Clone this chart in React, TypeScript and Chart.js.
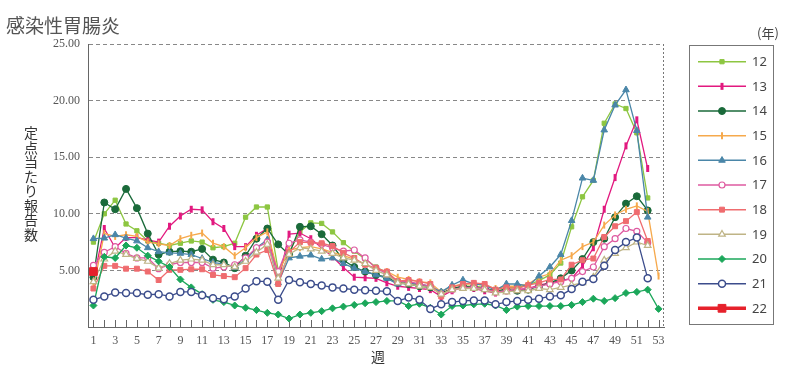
import React, { useEffect, useRef } from 'react';
import { Chart, registerables } from 'chart.js';
import { drawPoint } from 'chart.js/helpers';

Chart.register(...registerables);

const weekLabels = ['1','2','3','4','5','6','7','8','9','10','11','12','13','14','15','16','17','18','19','20','21','22','23','24','25','26','27','28','29','30','31','32','33','34','35','36','37','38','39','40','41','42','43','44','45','46','47','48','49','50','51','52','53'];

const yearLabels = ['12','13','14','15','16','17','18','19','20','21','22'];

const s12 = [7.5,10.0,11.2,9.1,8.5,7.6,7.4,7.2,7.4,7.6, 7.5,7.0,7.1,7.4,9.7,10.6,10.6,5.0,6.6,8.4, 9.2,9.15,8.4,7.45,6.7,6.0,5.3,4.8,4.0,3.9, 3.7,3.6,2.9,3.4,3.6,3.6,3.5,3.1,3.4,3.5, 3.7,4.1,4.6,5.65,8.85,11.5,12.95,18.0,19.7,19.3, 17.15,11.4];
const s13 = [4.2,8.7,7.0,7.9,7.9,7.7,7.5,8.9,9.8,10.4, 10.35,9.3,8.7,7.1,7.1,8.1,8.7,3.9,8.2,8.3, 7.8,7.0,6.2,5.25,4.4,4.35,4.3,3.9,3.6,3.5, 3.4,3.3,2.7,3.2,3.5,3.4,3.2,3.0,3.2,3.3, 3.4,3.7,3.9,4.1,4.3,5.4,7.0,10.4,13.2,16.0, 18.3,14.0];
const s14 = [4.4,11.0,10.4,12.2,10.5,8.25,6.4,6.65,6.7,6.65, 6.9,5.95,5.7,5.2,6.3,7.8,8.7,7.3,6.4,8.85, 8.9,8.2,7.2,5.9,5.3,4.9,4.6,4.4,3.9,3.8, 3.6,3.5,3.0,3.4,3.6,3.5,3.4,3.2,3.3,3.2, 3.3,3.6,3.9,4.3,5.0,6.0,7.5,7.8,9.7,10.9, 11.55,10.3];
const s15 = [3.5,8.25,8.0,8.15,8.0,7.5,7.35,7.2,7.8,8.1, 8.3,7.4,7.1,6.3,7.0,7.9,8.4,4.8,6.8,7.0, 7.1,6.9,6.6,6.3,6.0,5.5,5.1,4.9,4.4,4.2, 4.0,3.9,3.1,3.6,3.8,3.8,3.7,3.4,3.6,3.6, 3.8,4.4,4.7,5.9,6.3,7.1,7.5,9.0,9.9,10.4, 10.7,10.2,4.5];
const s16 = [7.8,7.85,8.15,7.85,7.6,7.0,6.65,6.55,6.5,6.4, 6.05,5.7,5.55,5.25,5.9,7.0,7.7,3.9,6.1,6.25, 6.35,6.0,6.1,5.6,5.2,4.9,4.6,4.3,3.8,3.9, 3.8,3.6,3.1,3.7,4.15,3.8,3.7,3.25,3.8,3.8, 3.6,4.5,5.3,6.4,9.4,13.15,12.95,17.4,19.6,20.95, 17.35,9.7];
const s17 = [5.45,6.6,7.1,6.5,6.1,6.1,5.15,5.5,5.7,5.7, 5.7,5.2,5.3,5.5,6.1,7.0,7.5,4.9,7.4,7.7, 7.5,7.3,7.0,6.7,6.8,6.1,5.2,4.7,4.0,4.0, 3.8,3.6,2.9,3.3,3.5,3.5,3.4,3.1,3.2,3.3, 3.4,3.6,3.8,4.0,4.3,4.9,5.3,7.1,7.8,8.7, 8.45,7.45];
const s18 = [3.4,5.4,5.4,5.15,5.15,4.9,4.15,5.05,5.05,5.1, 5.1,4.6,4.5,4.4,5.2,6.4,6.8,3.8,6.6,7.5, 7.45,7.4,7.15,6.55,6.1,5.5,5.2,4.9,4.05,4.15, 4.0,3.8,2.7,3.5,3.8,3.9,3.8,3.3,3.5,3.4, 3.7,3.9,4.2,4.2,5.5,5.9,6.05,7.95,8.9,9.35, 10.15,7.6];
const s19 = [4.0,6.0,6.7,6.4,6.05,5.8,5.2,5.6,5.9,6.0, 5.9,5.5,5.5,5.3,5.8,6.6,7.3,4.3,6.4,7.0, 6.9,6.7,6.5,6.1,5.9,5.6,5.0,4.6,3.9,3.8, 3.6,3.5,2.9,3.3,3.4,3.4,3.3,3.0,3.1,3.2, 3.2,3.4,3.3,3.5,3.7,3.9,4.4,5.9,6.5,7.0, 7.5,7.2];
const s20 = [1.9,6.2,6.1,7.2,7.0,6.3,5.8,5.3,4.2,3.5, 2.9,2.4,2.2,1.9,1.7,1.5,1.25,1.1,0.75,1.1, 1.25,1.4,1.65,1.8,1.95,2.1,2.2,2.3,2.3,1.85, 2.05,1.7,1.1,1.85,1.9,2.0,2.05,1.9,1.5,1.8, 1.85,1.85,1.85,1.85,1.95,2.2,2.5,2.3,2.55,3.0, 3.1,3.3,1.6];
const s21 = [2.4,2.7,3.05,3.0,3.0,2.85,2.9,2.7,3.1,3.1, 2.8,2.55,2.45,2.7,3.4,4.05,4.0,2.4,4.15,3.95, 3.8,3.67,3.5,3.4,3.3,3.25,3.2,3.15,2.3,2.6, 2.4,1.6,2.0,2.2,2.3,2.35,2.35,2.0,2.2,2.3, 2.4,2.5,2.7,2.8,3.35,4.0,4.25,5.4,6.8,7.5, 7.9,4.3];
const s22 = [4.9];

const yTicks = [0, 5, 10, 15, 20, 25];

const seriesData = [s12, s13, s14, s15, s16, s17, s18, s19, s20, s21, s22];

type Style = { color: string; fill: string; pointStyle: string; radius: number; pbw: number; rot: number; lw: number };
const styles: Style[] = [
  { color: '#8dc641', fill: '#8dc641', pointStyle: 'rect', radius: 3, pbw: 1, rot: 0, lw: 1.3 },
  { color: '#e2197f', fill: '#e2197f', pointStyle: 'line', radius: 3.5, pbw: 3, rot: 90, lw: 1.3 },
  { color: '#1a6a3a', fill: '#1a6a3a', pointStyle: 'circle', radius: 3.5, pbw: 1, rot: 0, lw: 1.3 },
  { color: '#f6a94c', fill: '#f6a94c', pointStyle: 'line', radius: 3.5, pbw: 2, rot: 90, lw: 1.3 },
  { color: '#4a86a8', fill: '#4a86a8', pointStyle: 'triangle', radius: 3.8, pbw: 1, rot: 0, lw: 1.3 },
  { color: '#de5aa0', fill: '#ffffff', pointStyle: 'circle', radius: 3, pbw: 1.2, rot: 0, lw: 1.3 },
  { color: '#ef6c6f', fill: '#ef6c6f', pointStyle: 'rect', radius: 3.5, pbw: 1, rot: 0, lw: 1.3 },
  { color: '#bfb486', fill: '#ffffff', pointStyle: 'triangle', radius: 3.8, pbw: 1.2, rot: 0, lw: 1.3 },
  { color: '#1ba75a', fill: '#1ba75a', pointStyle: 'rectRot', radius: 3.5, pbw: 1, rot: 0, lw: 1.3 },
  { color: '#3c4d8c', fill: '#ffffff', pointStyle: 'circle', radius: 3.5, pbw: 1.5, rot: 0, lw: 1.3 },
  { color: '#e6212b', fill: '#e6212b', pointStyle: 'rect', radius: 5.5, pbw: 1, rot: 0, lw: 3.5 },
];

const decorPlugin = {
  id: 'decor',
  beforeDatasetsDraw(chart: any) {
    const { ctx, chartArea: a, scales } = chart;
    const x = scales.x;
    ctx.save();
    ctx.strokeStyle = '#777';
    ctx.lineWidth = 1;
    ctx.setLineDash([2, 2]);
    ctx.beginPath();
    ctx.moveTo(Math.round(a.right) - 0.5, a.top);
    ctx.lineTo(Math.round(a.right) - 0.5, a.bottom);
    ctx.stroke();
    ctx.setLineDash([]);
    ctx.strokeStyle = '#666';
    ctx.beginPath();
    for (let i = 0; i < weekLabels.length; i++) {
      const px = Math.round(x.getPixelForValue(i)) + 0.5;
      ctx.moveTo(px, a.bottom);
      ctx.lineTo(px, a.bottom - 7);
    }
    ctx.stroke();
    ctx.restore();
  },
  afterDraw(chart: any) {
    const { ctx } = chart;
    ctx.save();
    ctx.fillStyle = '#555';
    ctx.font = '19px "Noto Sans CJK JP", sans-serif';
    ctx.textAlign = 'left';
    ctx.textBaseline = 'middle';
    ctx.fillText('感染性胃腸炎', 6, 26);
    const yt = '定点当たり報告数';
    ctx.fillStyle = '#333';
    ctx.font = '14px "Noto Sans CJK JP", sans-serif';
    ctx.textAlign = 'center';
    for (let i = 0; i < yt.length; i++) {
      ctx.fillText(yt[i], 31, 133 + i * 14.5);
    }
    ctx.fillText('週', 378, 357);
    ctx.fillStyle = '#444';
    ctx.font = '13px "Noto Sans CJK JP", sans-serif';
    ctx.fillText('(年)', 768, 33);
    ctx.strokeStyle = '#777';
    ctx.lineWidth = 1;
    ctx.strokeRect(689.5, 45.5, 84, 279);
    for (let i = 0; i < yearLabels.length; i++) {
      const st = styles[i];
      const yy = 61.7 + i * 24.66;
      ctx.strokeStyle = st.color;
      ctx.lineWidth = i === 10 ? 3.5 : 1.5;
      ctx.beginPath();
      ctx.moveTo(698, yy);
      ctx.lineTo(746, yy);
      ctx.stroke();
      ctx.fillStyle = st.fill;
      ctx.strokeStyle = st.color;
      ctx.lineWidth = st.pbw;
      drawPoint(ctx, { pointStyle: st.pointStyle as any, rotation: st.rot, radius: st.radius, borderWidth: st.pbw }, 722, yy);
      ctx.fillStyle = '#444';
      ctx.font = '13px "Noto Sans", sans-serif';
      ctx.textAlign = 'left';
      ctx.fillText(yearLabels[i], 752, yy + 0.5);
      ctx.textAlign = 'center';
    }
    ctx.restore();
  },
};

export default function App() {
  const ref = useRef<HTMLCanvasElement | null>(null);
  useEffect(() => {
    if (!ref.current) return;
    const datasets = seriesData.map((d, i) => {
      const st = styles[i];
      return {
        label: yearLabels[i],
        data: d,
        borderColor: st.color,
        backgroundColor: st.fill,
        borderWidth: st.lw,
        pointStyle: st.pointStyle,
        pointRadius: st.radius,
        pointRotation: st.rot,
        pointBorderWidth: st.pbw,
        pointBackgroundColor: st.fill,
        pointBorderColor: st.color,
        tension: 0,
        order: 10 - i,
      };
    });
    const chart = new Chart(ref.current, {
      type: 'line',
      data: { labels: weekLabels, datasets: datasets as any },
      plugins: [decorPlugin],
      options: {
        animation: false,
        responsive: false,
        devicePixelRatio: 1,
        layout: { padding: { left: 0, right: 136, top: 44, bottom: 0 } },
        plugins: { legend: { display: false }, tooltip: { enabled: false }, title: { display: false } },
        scales: {
          x: {
            type: 'category',
            offset: true,
            afterFit: (s: any) => { s.height = 39; },
            grid: { display: false, drawTicks: false },
            border: { display: true, color: '#666', width: 1 },
            ticks: {
              autoSkip: false,
              maxRotation: 0,
              padding: 7,
              color: '#555',
              font: { family: '"Liberation Serif", "DejaVu Serif", serif', size: 12 },
              callback: (_v: any, idx: number) => (idx % 2 === 0 ? weekLabels[idx] : ''),
            },
          },
          y: {
            min: yTicks[0],
            max: yTicks[yTicks.length - 1],
            afterFit: (s: any) => { s.width = 88; },
            afterBuildTicks: (s: any) => { s.ticks = yTicks.map((v) => ({ value: v })); },
            grid: {
              drawTicks: false,
              color: (c: any) => (c.tick && c.tick.value === 0 ? 'rgba(0,0,0,0)' : '#888'),
              lineWidth: 1,
            },
            border: { display: true, color: '#666', width: 1, dash: [4, 3] },
            ticks: {
              padding: 8,
              color: '#555',
              font: { family: '"Liberation Serif", "DejaVu Serif", serif', size: 12 },
              callback: (v: any) => (Number(v) === 0 ? '' : Number(v).toFixed(2)),
            },
          },
        },
      },
    });
    return () => chart.destroy();
  }, []);
  return (
    <div style={{ position: 'fixed', left: 0, top: 0, width: 800, height: 366, background: '#fff' }}>
      <canvas ref={ref} width={800} height={366} style={{ display: 'block' }} />
    </div>
  );
}
